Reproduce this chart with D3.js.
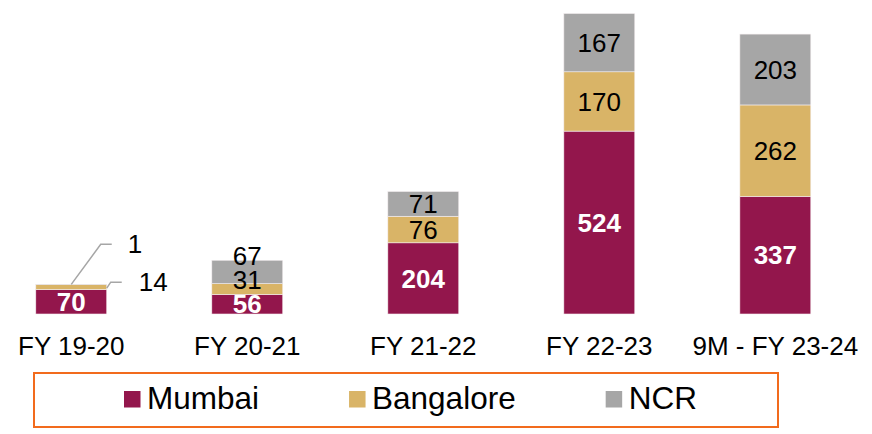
<!DOCTYPE html>
<html>
<head>
<meta charset="utf-8">
<script src="https://cdn.jsdelivr.net/npm/d3@7"></script>
<style>
  body { margin: 0; background: #fff; }
  svg { display: block; font-family: "Liberation Sans", Arial, sans-serif; }
</style>
</head>
<body>
<div id="chart"></div>
<script>
// data
var years = ["FY 19-20", "FY 20-21", "FY 21-22", "FY 22-23", "9M - FY 23-24"];
var cities = ["Mumbai", "Bangalore", "NCR"];
var mumbai = [70, 56, 204, 524, 337];
var bangalore = [14, 31, 76, 170, 262];
var ncr = [1, 67, 71, 167, 203];

var colors = { Mumbai: "#93164c", Bangalore: "#d9b467", NCR: "#a6a6a6" };

var W = 872, H = 434;
var svg = d3.select("#chart").append("svg").attr("width", W).attr("height", H);

var rows = years.map(function (y, i) {
  return { year: y, Mumbai: mumbai[i], Bangalore: bangalore[i], NCR: ncr[i] };
});
var series = d3.stack().keys(cities)(rows);

var x = d3.scaleBand().domain(years).range([0.6, 846]).paddingInner(0.597).paddingOuter(0.2);
var y = d3.scaleLinear()
  .domain([0, d3.max(rows, function (d) { return d.Mumbai + d.Bangalore + d.NCR; })])
  .range([314, 13.5]);

// bars
var layer = svg.selectAll(".layer").data(series).join("g")
  .attr("class", "layer")
  .attr("fill", function (d) { return colors[d.key]; });

layer.selectAll("rect").data(function (d) { return d; }).join("rect")
  .attr("x", function (d) { return x(d.data.year); })
  .attr("y", function (d) { return y(d[1]); })
  .attr("width", x.bandwidth())
  .attr("height", function (d) { return y(d[0]) - y(d[1]); })
  .attr("stroke", "#f4eef0")
  .attr("stroke-width", 0.6);

// x labels
svg.append("g").selectAll("text").data(years).join("text")
  .attr("x", function (d) { return x(d) + x.bandwidth() / 2; })
  .attr("y", 355)
  .attr("text-anchor", "middle")
  .style("font-size", "26px")
  .attr("fill", "#000")
  .text(function (d) { return d; });

// value labels: stacked from bottom, pushed up when they crowd each other
var minGap = 24;
var labels = [];
years.forEach(function (yr, i) {
  var prev = null;
  series.forEach(function (s, k) {
    var seg = s[i];
    var h = y(seg[0]) - y(seg[1]);
    var cy = (y(seg[0]) + y(seg[1])) / 2;
    if (i === 0 && h < 15) {
      labels.push({ year: yr, key: s.key, value: seg[1] - seg[0], seg: seg, callout: true });
      return;
    }
    if (prev !== null) cy = Math.min(cy, prev - minGap);
    prev = cy;
    labels.push({ year: yr, key: s.key, value: seg[1] - seg[0], cy: cy, callout: false });
  });
});

var inner = labels.filter(function (d) { return !d.callout; });
svg.append("g").selectAll("text").data(inner).join("text")
  .attr("x", function (d) { return x(d.year) + x.bandwidth() / 2; })
  .attr("y", function (d) { return d.cy; })
  .attr("dy", "0.35em")
  .attr("text-anchor", "middle")
  .style("font-size", "26px")
  .style("font-weight", function (d) { return d.key === "Mumbai" ? "bold" : "normal"; })
  .attr("fill", function (d) { return d.key === "Mumbai" ? "#fff" : "#000"; })
  .text(function (d) { return d.value; });

// callouts for tiny segments of the first bar
var callouts = labels.filter(function (d) { return d.callout; });
var cg = svg.append("g");
callouts.forEach(function (d) {
  var x0 = x(d.year), x1 = x0 + x.bandwidth();
  var pts, tx, ty;
  if (d.key === "NCR") {
    var top = y(d.seg[1]);
    pts = [[x0 + x.bandwidth() / 2, top], [x1 - 6, top - 40], [x1 + 5, top - 40]];
    tx = x1 + 21; ty = top - 40;
  } else {
    var mid = (y(d.seg[0]) + y(d.seg[1])) / 2;
    pts = [[x1, mid + 1], [x1 + 4, mid - 5], [x1 + 15, mid - 5]];
    tx = x1 + 32; ty = mid - 5;
  }
  cg.append("path")
    .attr("d", d3.line()(pts))
    .attr("fill", "none")
    .attr("stroke", "#a6a6a6")
    .attr("stroke-width", 1.5);
  cg.append("text")
    .attr("x", tx)
    .attr("y", ty)
    .attr("dy", "0.35em")
    .style("font-size", "26px")
    .attr("fill", "#000")
    .text(d.value);
});

// legend
var legend = svg.append("g").attr("class", "legend");
legend.append("rect")
  .attr("x", 34).attr("y", 373)
  .attr("width", 744).attr("height", 54)
  .attr("fill", "none")
  .attr("stroke", "#f26b1d")
  .attr("stroke-width", 2);

var lx = 124;
cities.forEach(function (c) {
  legend.append("rect")
    .attr("x", lx).attr("y", 391)
    .attr("width", 16.5).attr("height", 16.5)
    .attr("fill", colors[c]);
  var t = legend.append("text")
    .attr("x", lx + 23).attr("y", 409)
    .style("font-size", "31.5px")
    .attr("fill", "#000")
    .text(c);
  lx = lx + 23 + t.node().getComputedTextLength() + 90;
});
</script>
</body>
</html>
